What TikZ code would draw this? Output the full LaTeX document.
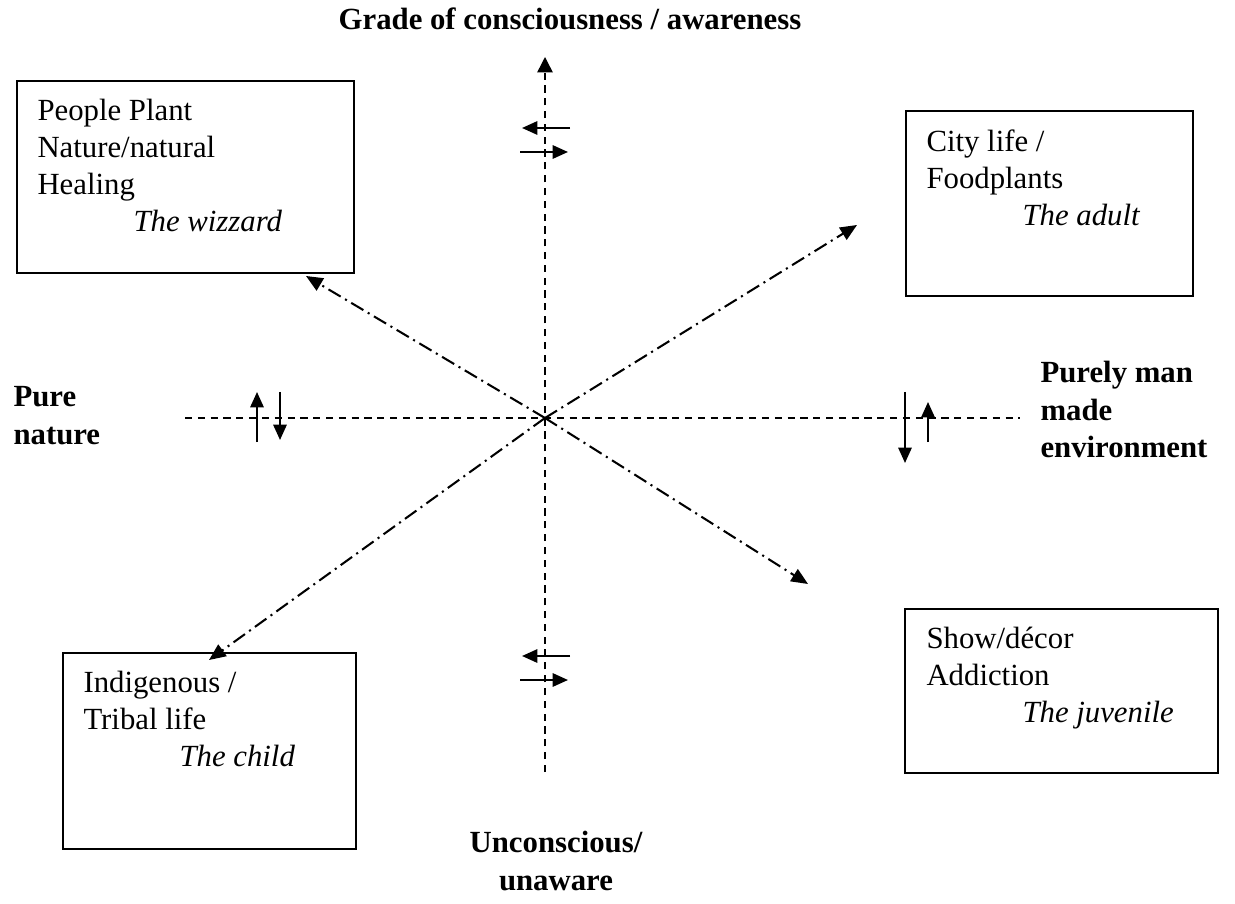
\documentclass[tikz,border=0pt]{standalone}
\usepackage{fontspec}
\setmainfont{Liberation Serif}
\usetikzlibrary{arrows.meta,calc}
\newdimen\px \px=0.39pt

\begin{document}
\begin{tikzpicture}[x=0.39pt,y=-0.39pt,
  axis/.style={line width=0.55pt,dash pattern=on 2.8pt off 2.2pt},
  diag/.style={line width=0.8pt,dash pattern=on 5.5pt off 2pt on 0.8pt off 2pt,
    -{Triangle[length=6.5pt,width=5.5pt]}},
  flow/.style={line width=0.8pt,-{Triangle[length=6pt,width=5.2pt]}},
  quadbox/.style={draw,line width=0.6pt,anchor=north west,inner sep=0pt},
  quadtext/.style={anchor=north west,inner sep=0pt,align=left,
    font=\fontsize{12}{14.4}\selectfont},
  pole/.style={inner sep=0pt,font=\fontsize{12}{14.6}\selectfont\bfseries}]
\useasboundingbox (0,0) rectangle (1235,904);

% centre and axis ends
\coordinate (O) at (545,418);
\coordinate (Ntop) at (545,57);
\coordinate (Sbot) at (545,772);
\coordinate (Wend) at (185,418);
\coordinate (Eend) at (1020,418);
\coordinate (NE) at (857,225);
\coordinate (NW) at (306,276);
\coordinate (SW) at (209,660);
\coordinate (SE) at (808,584);

% axes
\draw[axis,-{Triangle[length=6pt,width=6pt]}] (Sbot) -- (Ntop);
\draw[axis] (Wend) -- (Eend);

% diagonals
\draw[diag] (O) -- (NE);
\draw[diag] (O) -- (NW);
\draw[diag] (O) -- (SW);
\draw[diag] (O) -- (SE);

% small arrows on the axes
\foreach \ya/\yb in {128/152,656/680}{
  \draw[flow] (570,\ya) -- (522,\ya);
  \draw[flow] (520,\yb) -- (568,\yb);
}
\draw[flow] (257,442) -- (257,392);
\draw[flow] (280,392) -- (280,440);
\draw[flow] (905,392) -- (905,463);
\draw[flow] (928,442) -- (928,402);

% quadrant boxes
\node[quadbox,minimum width=337*\px,minimum height=192*\px] (wizard) at (16,80) {};
\node[quadtext] (wizardtxt) at ($(wizard.north west)+(21,19)$)
  {People Plant\\Nature/natural\\Healing\\\hspace*{96\px}\textit{The wizzard}};

\node[quadbox,minimum width=287*\px,minimum height=185*\px] (adult) at (905,110) {};
\node[quadtext] (adulttxt) at ($(adult.north west)+(21,19)$)
  {City life /\\Foodplants\\\hspace*{96\px}\textit{The adult}};

\node[quadbox,minimum width=313*\px,minimum height=164*\px] (juvenile) at (904,608) {};
\node[quadtext] (juveniletxt) at ($(juvenile.north west)+(22,19)$)
  {Show/décor\\Addiction\\\hspace*{96\px}\textit{The juvenile}};

\node[quadbox,minimum width=293*\px,minimum height=196*\px] (child) at (62,652) {};
\node[quadtext] (childtxt) at ($(child.north west)+(21,19)$)
  {Indigenous /\\Tribal life\\\hspace*{96\px}\textit{The child}};

% pole labels
\node[pole,anchor=base] (aware) at (570,30) {Grade of consciousness / awareness};
\node[pole,anchor=north west,align=left] (nature) at (13,386) {Pure\\nature};
\node[pole,anchor=north west,align=left] (manmade) at (1040,361) {Purely man\\made\\environment};
\node[pole,anchor=north,align=center] (unaware) at (556,831) {Unconscious/\\unaware};

\end{tikzpicture}
\end{document}
